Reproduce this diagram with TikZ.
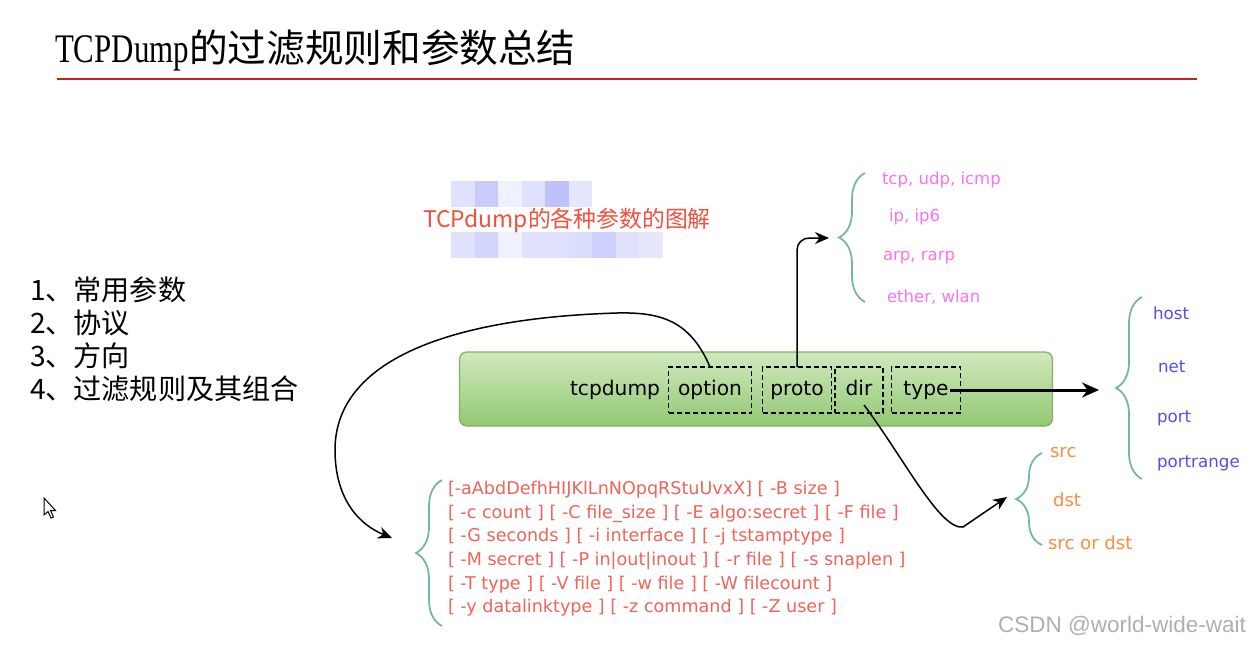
\documentclass[tikz,border=0pt]{standalone}
\usepackage{fontspec}
\usepackage{graphicx}
\usetikzlibrary{arrows.meta, positioning, decorations.pathreplacing, calc}
\setmainfont{Liberation Serif}
\newfontfamily\cjk{Noto Sans CJK SC}
\newfontfamily\hand{DejaVu Sans}
\newfontfamily\arial{Liberation Sans}
\definecolor{titlered}{RGB}{200, 30, 30}
\definecolor{subred}{RGB}{240, 80, 60}
\definecolor{mosaicblue}{RGB}{110, 120, 245}
\definecolor{bartop}{RGB}{208, 233, 190}
\definecolor{barbottom}{RGB}{146, 200, 115}
\definecolor{barline}{RGB}{128, 178, 100}
\definecolor{bracegreen}{RGB}{120, 180, 162}
\definecolor{protopink}{RGB}{250, 115, 240}
\definecolor{typeblue}{RGB}{80, 80, 240}
\definecolor{dirorange}{RGB}{255, 140, 60}
\definecolor{optred}{RGB}{240, 100, 90}
\definecolor{wmgray}{RGB}{175, 175, 175}

\begin{document}
\begin{tikzpicture}[x=0.2mm, y=-0.2mm,
    every node/.style={inner sep=0pt, outer sep=0pt},
    item/.style={anchor=base west, font=\cjk\fontsize{16}{19}\selectfont},
    bar/.style={rounded corners=1.5mm, draw=barline, line width=0.25mm, top color=bartop, bottom color=barbottom, minimum width=118.6mm, minimum height=14.8mm},
    slot/.style={draw, dash pattern=on 1mm off 0.6mm, line width=0.3mm, minimum height=9.2mm, text height=8.5pt, text depth=2.5pt, font=\hand\fontsize{11.5}{13}\selectfont},
    curly/.style={decorate, decoration={brace, amplitude=5.2mm}, draw=bracegreen, line width=0.35mm},
    arrow/.style={-{Stealth[length=2.8mm, width=2.4mm]}, line width=0.3mm},
    bigarrow/.style={-{Stealth[length=3.4mm, width=3mm]}, line width=0.6mm},
    proto item/.style={anchor=west, text=protopink, font=\hand\fontsize{9.4}{11}\selectfont},
    type item/.style={anchor=west, text=typeblue, font=\hand\fontsize{9.5}{11}\selectfont},
    dir item/.style={anchor=west, text=dirorange, font=\hand\fontsize{10.3}{12}\selectfont}
]
\useasboundingbox (0,0) rectangle (1249,646);
\fill[white] (0,0) rectangle (1249,646);

% title
\node[anchor=base west] (title) at (55,62) {\scalebox{0.8}[1.05]{\fontsize{22}{26}\selectfont TCPDump}\cjk\fontsize{22}{26}\selectfont 的过滤规则和参数总结};
\draw[titlered, line width=0.4mm] (57,79) -- (1197,79);

% list on the left
\node[item] (item1) at (30,300) {1、常用参数};
\node[item] (item2) at (30,333) {2、协议};
\node[item] (item3) at (30,366) {3、方向};
\node[item] (item4) at (30,399) {4、过滤规则及其组合};

% blurred mosaic behind the caption
\foreach \i/\s in {0/22,1/38,2/10,3/22,4/45,5/18}
    \fill[mosaicblue!\s] (451+\i*23.5,181) rectangle ++(23.5,26);
\foreach \i/\s in {0/22,1/30,2/10,3/22,4/22,5/25,6/35,7/22,8/18}
    \fill[mosaicblue!\s] (451+\i*23.5,232) rectangle ++(23.5,26);
\node[text=subred, font=\cjk\fontsize{13}{15}\selectfont] (caption) at (567,220) {TCPdump的各种参数的图解};

% command bar
\node[bar] (bar) at (756,389) {};
\node[text height=8.5pt, text depth=2.5pt, font=\hand\fontsize{11.5}{13}\selectfont] (cmd) at (615,390) {tcpdump};
\node[slot, minimum width=16.6mm] (option) at (710,390) {option};
\node[slot, minimum width=13.8mm] (proto) at (797,390) {proto};
\node[slot, minimum width=9.6mm] (dir) at (859,390) {dir};
\node[slot, minimum width=13.8mm] (type) at (926,390) {type};

% protocols
\draw[curly] (865,302) -- (865,173);
\coordinate (prototip) at (829,238);
\node[proto item] (tcp) at (882,180) {tcp, udp, icmp};
\node[proto item] (ip) at (889,217) {ip, ip6};
\node[proto item] (arp) at (883,258) {arp, rarp};
\node[proto item] (ether) at (887,297) {ether, wlan};
\draw[arrow, rounded corners=2.4mm] (proto.north) |- (prototip);

% types
\draw[curly] (1142,479) -- (1142,297);
\coordinate (typetip) at (1099,390);
\node[type item] (host) at (1153,313) {host};
\node[type item] (net) at (1158,367) {net};
\node[type item] (port) at (1157,418) {port};
\node[type item] (portrange) at (1157,463) {portrange};
\draw[bigarrow] ($(type.east)+(-11,0)$) -- (typetip);

% directions
\draw[curly] (1042,545) -- (1042,453);
\coordinate (dirtip) at (1007,497);
\node[dir item] (src) at (1050,453) {src};
\node[dir item] (dst) at (1053,500) {dst};
\node[dir item] (srcdst) at (1048,543) {src or dst};
\draw[arrow] ($(dir.center)+(5,15)$) .. controls (905,460) and (940,530) .. (963,527) -- (dirtip);

% options
\draw[curly] (442,626) -- (442,480);
\coordinate (opttip) at (392,538);
\node[anchor=north west, align=left, text=optred, font=\hand\fontsize{10}{13.5}\selectfont] (opts) at (448,481)
    {{[}-aAbdDefhHIJKlLnNOpqRStuUvxX] [ -B size ]\\
     {[} -c count ] [ -C file\_size ] [ -E algo:secret ] [ -F file ]\\
     {[} -G seconds ] [ -i interface ] [ -j tstamptype ]\\
     {[} -M secret ] [ -P in|out|inout ] [ -r file ] [ -s snaplen ]\\
     {[} -T type ] [ -V file ] [ -w file ] [ -W filecount ]\\
     {[} -y datalinktype ] [ -z command ] [ -Z user ]};
\draw[arrow] (option.north) .. controls (690,320) and (660,312) .. (617,313)
    .. controls (450,318) and (335,360) .. (335,450)
    .. controls (335,500) and (360,525) .. (opttip);

% mouse pointer and watermark
\draw[fill=white, line width=0.2mm] (44,498) -- (44,515) -- (48,511.5) -- (51,518) -- (53.5,517) -- (50.5,510.5) -- (55.5,510.5) -- cycle;
\node[anchor=east, text=wmgray, font=\arial\fontsize{12.8}{15}\selectfont] (watermark) at (1246,626) {CSDN @world-wide-wait};
\end{tikzpicture}
\end{document}
